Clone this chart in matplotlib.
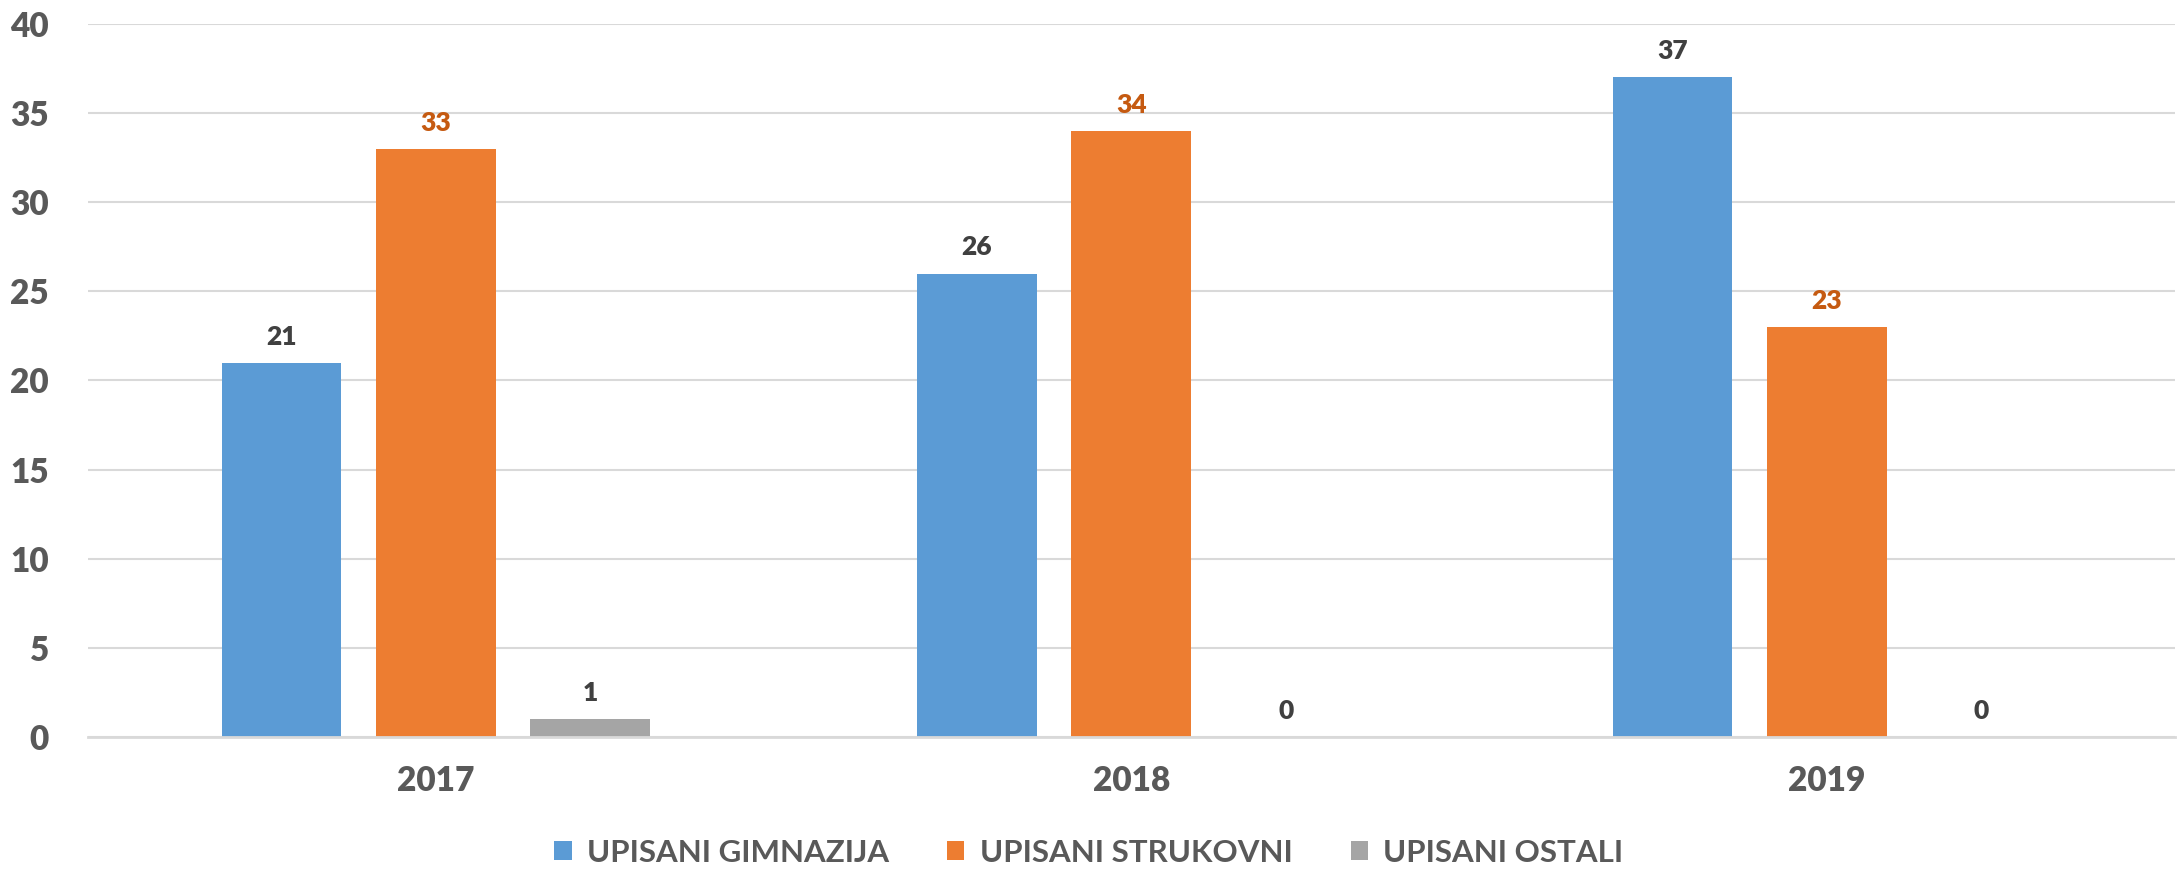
# grouped bar chart: enrolled students per year and school type
import numpy as np
import matplotlib.pyplot as plt

plt.rcParams['font.family'] = ['Lato', 'DejaVu Sans']

years = ['2017', '2018', '2019']
gimnazija = [21, 26, 37]
strukovni = [33, 34, 23]
ostali = [1, 0, 0]

series_names = ['UPISANI GIMNAZIJA', 'UPISANI STRUKOVNI', 'UPISANI OSTALI']
colors = ['#5B9BD5', '#ED7D31', '#A5A5A5']
label_colors = ['#404040', '#C55A11', '#404040']

fig = plt.figure(figsize=(21.78, 8.72), dpi=100)
ax = fig.add_axes([0.0404, 0.1548, 0.958, 0.8177])

x = np.arange(len(years))
step = 0.222
width = 0.172

for i, vals in enumerate([gimnazija, strukovni, ostali]):
    pos = x + (i - 1) * step
    ax.bar(pos, vals, width=width, color=colors[i], label=series_names[i], zorder=3)
    for p, v in zip(pos, vals):
        ax.annotate(str(v), (p, v), xytext=(0, 13), textcoords='offset points',
                    ha='center', va='baseline', fontsize=19, fontweight='heavy',
                    color=label_colors[i])

ax.set_xlim(-0.5, 2.5)
ax.set_ylim(0, 40)
ax.set_yticks(range(0, 41, 5))
ax.set_xticks(x)
ax.set_xticklabels(years)
ax.grid(axis='y', color='#D9D9D9', linewidth=1.5, zorder=0)
for s in ['top', 'right', 'left']:
    ax.spines[s].set_visible(False)
ax.spines['bottom'].set_color('#D9D9D9')
ax.spines['bottom'].set_linewidth(2)
ax.spines['bottom'].set_zorder(4)
ax.tick_params(axis='both', length=0, labelsize=24, labelcolor='#595959')
ax.tick_params(axis='y', pad=28)
ax.tick_params(axis='x', pad=20)
for lab in ax.get_xticklabels() + ax.get_yticklabels():
    lab.set_fontweight('heavy')

leg = fig.legend(loc='center', bbox_to_anchor=(0.5, 0.022), ncol=3, frameon=False,
                 prop={'size': 22.5, 'weight': 'bold'}, handlelength=0.55,
                 handleheight=0.55, columnspacing=1.85, handletextpad=0.5)
for t in leg.get_texts():
    t.set_color('#595959')

fig.savefig('out.png', dpi=100)
